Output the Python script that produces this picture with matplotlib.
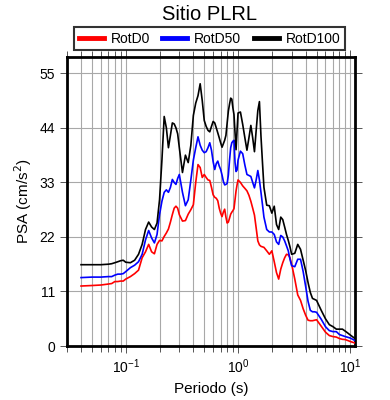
import matplotlib
matplotlib.use("Agg")
import matplotlib.pyplot as plt
from matplotlib.ticker import LogLocator, NullFormatter

plt.rcParams['font.family'] = ['Liberation Sans', 'DejaVu Sans']

periods = [0.04, 0.05, 0.06, 0.07, 0.075, 0.08, 0.085, 0.09, 0.095, 0.10,
           0.11, 0.12, 0.13, 0.14, 0.15, 0.16, 0.17, 0.18, 0.19, 0.20,
           0.21, 0.22, 0.23, 0.24, 0.25, 0.26, 0.27, 0.28, 0.29, 0.30,
           0.32, 0.34, 0.36, 0.38, 0.40, 0.42, 0.44, 0.46, 0.48, 0.50,
           0.52, 0.54, 0.56, 0.58, 0.60, 0.62, 0.64, 0.66, 0.68, 0.70,
           0.72, 0.74, 0.76, 0.78, 0.80, 0.82, 0.84, 0.86, 0.88, 0.90,
           0.92, 0.94, 0.96, 0.98, 1.0, 1.05, 1.1, 1.15, 1.2, 1.25,
           1.3, 1.35, 1.4, 1.45, 1.5, 1.55, 1.6, 1.65, 1.7, 1.8,
           1.9, 2.0, 2.1, 2.2, 2.3, 2.4, 2.5, 2.6, 2.7, 2.8,
           2.9, 3.0, 3.2, 3.4, 3.6, 3.8, 4.0, 4.2, 4.4, 4.6,
           4.8, 5.0, 5.5, 6.0, 6.5, 7.0, 7.5, 8.0, 8.5, 9.0,
           9.5, 10.0, 11.0]

rotd100 = [16.4, 16.4, 16.4, 16.5, 16.6, 16.8, 17.0, 17.2, 17.3, 16.9,
           16.8, 17.3, 18.5, 20.5, 23.5, 25.0, 24.0, 23.5, 24.8, 29.5,
           37.5, 46.3, 44.0, 40.0, 42.5, 45.0, 44.8, 44.0, 42.8, 40.0,
           35.0, 38.5, 37.0, 40.5, 46.5, 49.0, 50.5, 52.9, 49.5, 45.5,
           44.3, 43.5, 43.2, 44.3, 45.3, 45.0, 44.0, 43.0, 42.0, 41.0,
           40.1, 40.8, 41.5, 42.5, 45.0, 47.4, 48.8, 50.0, 49.8, 48.0,
           46.7, 43.0, 39.6, 43.5, 47.0, 47.2, 44.7, 42.0, 39.5, 42.0,
           44.5, 42.0, 39.2, 43.5, 47.5, 49.3, 42.3, 37.0, 32.0, 28.4,
           28.3, 26.8, 28.2, 24.5, 23.5, 26.0, 25.5, 24.0, 22.5, 21.3,
           20.0, 18.5, 18.7, 20.5, 19.5, 17.3, 15.2, 12.8, 10.8, 9.6,
           9.4, 9.2, 7.2, 5.5, 4.3, 3.9, 3.4, 3.4, 3.4, 3.0,
           2.6, 2.2, 1.5]

rotd50 = [13.8, 13.9, 13.9, 14.0, 14.0, 14.3, 14.5, 14.5, 14.6, 15.0,
          15.8, 16.3, 17.0, 18.5, 21.4, 23.3, 21.8, 20.8, 22.5, 26.5,
          29.2, 31.0, 31.5, 31.0, 32.0, 33.6, 33.0, 32.6, 33.8, 34.6,
          31.0, 28.3, 29.5, 33.5, 37.5, 40.0, 42.2, 40.5, 39.5, 39.0,
          39.2, 40.0, 41.0, 39.5, 37.2, 35.6, 36.8, 37.3, 36.3, 35.6,
          34.5, 33.2, 32.5, 32.6, 32.8, 34.5, 37.5, 40.0, 41.0, 41.3,
          41.5, 37.0, 35.2, 35.5, 37.5, 39.3, 38.8, 36.5, 34.6, 34.4,
          34.2, 33.0, 31.9, 33.5, 35.4, 33.5, 31.0, 28.5, 26.0, 23.5,
          23.0, 23.0, 22.5, 21.0, 20.5, 22.3, 22.0, 21.2, 20.2, 19.2,
          17.5, 16.2, 16.0, 17.5, 17.5, 15.0, 12.0, 9.0, 7.2, 6.9,
          6.9, 6.8, 5.4, 3.9, 3.1, 2.9, 2.9, 2.3, 2.1, 1.9,
          1.75, 1.6, 1.1]

rotd0 = [12.1, 12.2, 12.3, 12.5, 12.6, 13.0, 13.0, 13.1, 13.1, 13.5,
         14.0, 14.6, 15.3, 17.8, 19.0, 20.5, 19.0, 18.6, 20.5, 21.3,
         21.2, 22.1, 22.8, 23.6, 25.0, 26.5, 27.8, 28.2, 27.8, 26.5,
         25.2, 25.3, 26.6, 27.5, 28.5, 33.0, 36.6, 36.0, 34.0, 34.6,
         34.0, 33.5, 33.4, 32.0, 30.5, 30.0, 29.8, 29.3, 27.8, 26.8,
         26.1, 27.0, 27.6, 26.0, 24.8, 25.0, 25.8, 26.6, 27.0, 27.3,
         27.7, 29.5, 31.3, 32.5, 33.5, 33.0, 32.3, 31.8, 31.3, 30.4,
         29.2, 27.8, 26.4, 23.8, 21.2, 20.4, 20.1, 20.0, 19.9, 19.2,
         18.5, 19.2, 17.0, 14.8, 13.5, 15.5, 16.8, 17.8, 18.5, 18.4,
         17.8, 16.5, 13.5, 10.3, 9.2, 7.5, 6.2, 5.2, 5.1, 5.1,
         5.2, 5.3, 4.0, 2.8, 2.1, 1.9, 1.8, 1.5, 1.35, 1.3,
         1.1, 0.9, 0.6]

y_ticks = [0, 11, 22, 33, 44, 55]
series_labels = ["RotD0", "RotD50", "RotD100"]
series_colors = ["#ff0000", "#0000ff", "#000000"]

fig = plt.figure(figsize=(3.9, 4.0), dpi=100)
ax = fig.add_axes([0.1718, 0.135, 0.7385, 0.7225])

for vals, lab, col in zip([rotd0, rotd50, rotd100], series_labels, series_colors):
    ax.plot(periods, vals, color=col, lw=1.2, label=lab, zorder=3)

ax.set_xscale('log')
ax.set_xlim(0.03, 11)
ax.set_ylim(0, 58.3)
ax.set_yticks(y_ticks)
ax.xaxis.set_major_locator(LogLocator(base=10, numticks=10))
ax.xaxis.set_minor_locator(LogLocator(base=10, subs=range(2, 10), numticks=100))
ax.xaxis.set_minor_formatter(NullFormatter())

ax.grid(True, which='major', color='#a8a8a8', lw=0.8, zorder=0)
ax.grid(True, which='minor', axis='x', color='#a8a8a8', lw=0.8, zorder=0)

ax.tick_params(which='both', direction='out', top=True, right=True,
               length=5, width=0.7, color='#555555', labelsize=10)
ax.tick_params(which='minor', length=4)
for s in ax.spines.values():
    s.set_linewidth(2.0)

ax.set_xlabel("Periodo (s)", fontsize=11, labelpad=4)
ax.set_ylabel("PSA (cm/s$^2$)", fontsize=11, labelpad=4)

leg = ax.legend(loc='lower center', bbox_to_anchor=(0.495, 1.025), ncol=3,
                frameon=True, fancybox=False, edgecolor='black',
                fontsize=10, handlelength=1.8, handletextpad=0.5,
                columnspacing=0.9, borderpad=0.3, borderaxespad=0)
leg.get_frame().set_linewidth(1.5)
for line in leg.get_lines():
    line.set_linewidth(3.5)

fig.text(0.538, 0.963, "Sitio PLRL", ha='center', va='center', fontsize=14.5)

fig.savefig("out.png", dpi=100)
